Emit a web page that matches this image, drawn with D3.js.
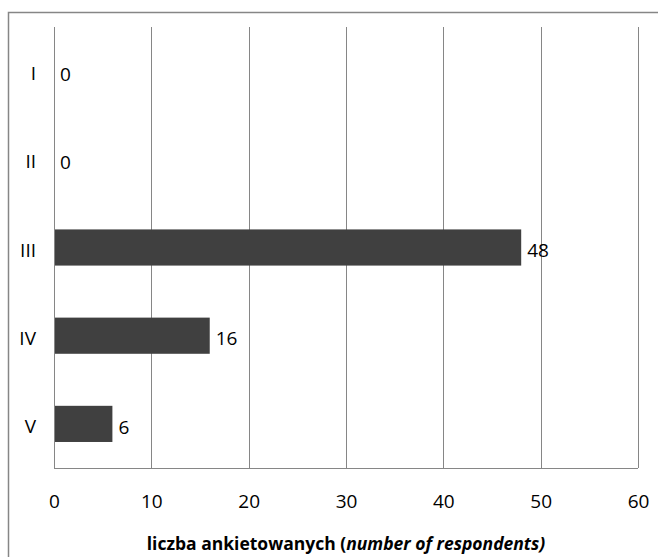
<!DOCTYPE html>
<html>
<head>
<meta charset="utf-8">
<script src="https://cdn.jsdelivr.net/npm/d3@7"></script>
<style>
  html, body { margin: 0; padding: 0; background: #fff; }
  svg { display: block; }
  text { font-family: "Open Sans", "Noto Sans", sans-serif; fill: #000; }
</style>
</head>
<body>
<svg id="chart" width="658" height="557"></svg>
<script>
// Survey responses per category
const categories = ["I", "II", "III", "IV", "V"];
const respondents = [0, 0, 48, 16, 6];
const xTicks = [0, 10, 20, 30, 40, 50, 60];
const titleMain = "liczba ankietowanych (";
const titleItalic = "number of respondents)";

const svg = d3.select("#chart");
const W = 658, H = 557;
const margin = { left: 54, right: 20, top: 27, bottom: 89 };
const labelSize = "19px";

// Outer frame (open on the right and bottom edges of the canvas)
svg.append("rect")
  .attr("x", 8.5).attr("y", 12.5)
  .attr("width", 700).attr("height", 600)
  .attr("fill", "none")
  .attr("stroke", "#868686")
  .attr("stroke-width", 1.5);

const x = d3.scaleLinear()
  .domain([0, 60])
  .range([margin.left, W - margin.right]);

const y = d3.scaleBand()
  .domain(categories)
  .range([margin.top, H - margin.bottom])
  .paddingInner(0.59)
  .paddingOuter(0.295);

const band = d3.scaleBand().domain(categories).range([margin.top, H - margin.bottom]);

// Vertical gridlines
svg.append("g")
  .selectAll("line")
  .data(xTicks)
  .join("line")
  .attr("x1", d => Math.round(x(d)) + 0.5)
  .attr("x2", d => Math.round(x(d)) + 0.5)
  .attr("y1", margin.top)
  .attr("y2", H - margin.bottom)
  .attr("stroke", "#868686")
  .attr("stroke-width", 1);

// Bottom axis line
svg.append("line")
  .attr("x1", x(0)).attr("x2", x(60))
  .attr("y1", H - margin.bottom + 0.5).attr("y2", H - margin.bottom + 0.5)
  .attr("stroke", "#868686");

// X axis tick labels
const xAxis = d3.axisBottom(x).tickValues(xTicks).tickSize(0).tickPadding(0);
const gx = svg.append("g")
  .attr("transform", `translate(0, ${H - margin.bottom})`)
  .call(xAxis);
gx.select(".domain").remove();
gx.selectAll("text")
  .attr("y", 33)
  .attr("dy", "0.35em")
  .style("font-size", labelSize)
  .style("font-family", '"Open Sans", sans-serif')
  .attr("fill", "#000");

// Y axis category labels
const yAxis = d3.axisLeft(band).tickSize(0).tickPadding(0);
const gy = svg.append("g")
  .attr("transform", `translate(36, 3)`)
  .call(yAxis);
gy.select(".domain").remove();
gy.selectAll("text")
  .style("font-size", labelSize)
  .style("font-family", '"Open Sans", sans-serif')
  .attr("fill", "#000");

// Bars
const data = categories.map((c, i) => ({ c, v: respondents[i] }));
svg.append("g")
  .selectAll("rect")
  .data(data)
  .join("rect")
  .attr("x", x(0))
  .attr("y", d => y(d.c))
  .attr("width", d => x(d.v) - x(0))
  .attr("height", y.bandwidth())
  .attr("fill", "#404040");

// Value labels
svg.append("g")
  .selectAll("text")
  .data(data)
  .join("text")
  .attr("x", d => x(d.v) + 6)
  .attr("y", d => band(d.c) + band.bandwidth() / 2 + 3)
  .attr("dy", "0.35em")
  .style("font-size", labelSize)
  .text(d => d.v);

// Left axis line
svg.append("line")
  .attr("x1", x(0) + 0.5).attr("x2", x(0) + 0.5)
  .attr("y1", margin.top).attr("y2", H - margin.bottom)
  .attr("stroke", "#868686");

// Axis title
const title = svg.append("text")
  .attr("x", (x(0) + x(60)) / 2)
  .attr("y", 550)
  .attr("text-anchor", "middle")
  .style("font-size", "17.5px")
  .style("font-weight", "bold");
title.append("tspan").text(titleMain);
title.append("tspan").style("font-style", "italic").text(titleItalic);
</script>
</body>
</html>
